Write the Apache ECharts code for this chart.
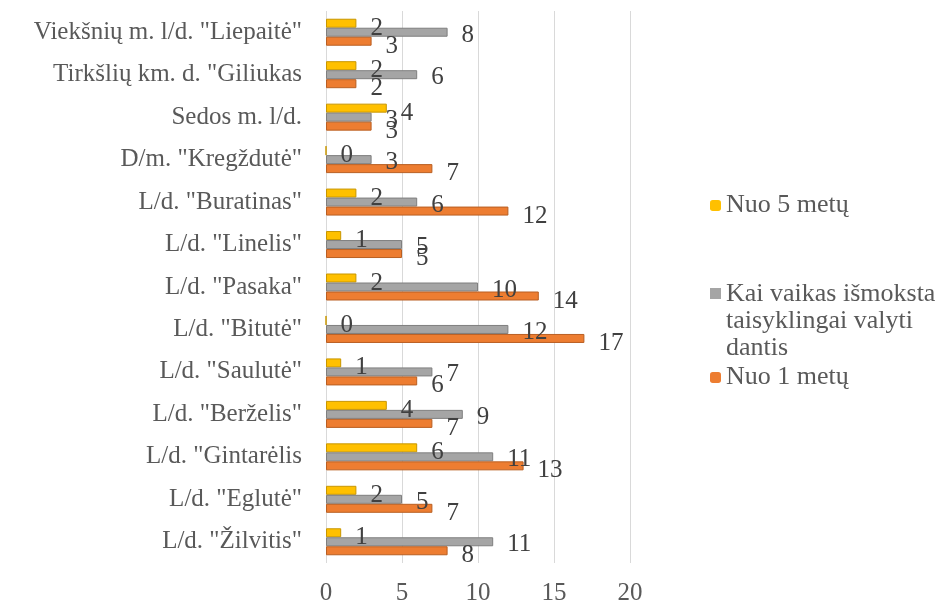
<!DOCTYPE html>
<html><head><meta charset="utf-8">
<script src="https://cdn.jsdelivr.net/npm/echarts@6/dist/echarts.min.js"></script>
<style>html,body{margin:0;padding:0;background:#fff}#c{width:944px;height:608px}</style>
</head><body><div id="c"></div>
<script>
const categories = ['Viekšnių m. l/d. "Liepaitė"', 'Tirkšlių km. d. "Giliukas', 'Sedos m. l/d.', 'D/m. "Kregždutė"', 'L/d. "Buratinas"', 'L/d. "Linelis"', 'L/d. "Pasaka"', 'L/d. "Bitutė"', 'L/d. "Saulutė"', 'L/d. "Berželis"', 'L/d. "Gintarėlis', 'L/d. "Eglutė"', 'L/d. "Žilvitis"'];
const seriesNames = ['Nuo 5 metų', 'Kai vaikas išmoksta\ntaisyklingai valyti\ndantis', 'Nuo 1 metų'];
const nuo5 = [2, 2, 4, 0, 2, 1, 2, 0, 1, 4, 6, 2, 1];
const kaiIsmoksta = [8, 6, 3, 3, 6, 5, 10, 12, 7, 9, 11, 5, 11];
const nuo1 = [3, 2, 3, 7, 12, 5, 14, 17, 6, 7, 13, 7, 8];
const xTicks = { min: 0, max: 20, interval: 5 };

const FONT = '"Liberation Serif", "Times New Roman", serif';
const colors = ['#FFC000', '#A5A5A5', '#ED7D31'];
const borders = ['#C89600', '#7F7F7F', '#B95F22'];
const values = [nuo5, kaiIsmoksta, nuo1];
const labelOffsets = [5, 3, 5];

const chart = echarts.init(document.getElementById('c'));
const legendBase = {
  orient: 'vertical', left: 705, itemWidth: 11, itemHeight: 11,
  itemStyle: { borderWidth: 0 },
  textStyle: { fontFamily: FONT, fontSize: 26, color: '#595959', lineHeight: 27 },
  selectedMode: false
};
chart.setOption({
  animation: false,
  backgroundColor: '#ffffff',
  legend: [
    Object.assign({}, legendBase, { top: 187, data: [seriesNames[0]] }),
    Object.assign({}, legendBase, { top: 276, itemHeight: 67,
      data: [{ name: seriesNames[1], icon: 'path://M0,0L11,0L11,11L0,11Z M0,67L0.01,67L0,67Z' }] }),
    Object.assign({}, legendBase, { top: 359, data: [seriesNames[2]] })
  ],
  grid: { left: 326, right: 314, top: 11, bottom: 45, containLabel: false },
  xAxis: {
    type: 'value', min: xTicks.min, max: xTicks.max, interval: xTicks.interval,
    axisLine: { show: false }, axisTick: { show: false },
    splitLine: { show: true, lineStyle: { color: '#D9D9D9', width: 1 } },
    axisLabel: { fontFamily: FONT, fontSize: 25, color: '#595959', margin: 18 }
  },
  yAxis: {
    type: 'category', data: categories, inverse: true,
    axisLine: { show: false }, axisTick: { show: false },
    axisLabel: { fontFamily: FONT, fontSize: 25, color: '#595959', margin: 24 }
  },
  series: values.map((v, i) => ({
    name: seriesNames[i], type: 'bar', data: v,
    barWidth: 9, barGap: '0%',
    itemStyle: { color: colors[i], borderColor: borders[i], borderWidth: 1 },
    label: { show: true, position: 'right', distance: 14, offset: [0, labelOffsets[i]],
      fontFamily: FONT, fontSize: 25, color: '#404040' }
  }))
});
</script></body></html>
